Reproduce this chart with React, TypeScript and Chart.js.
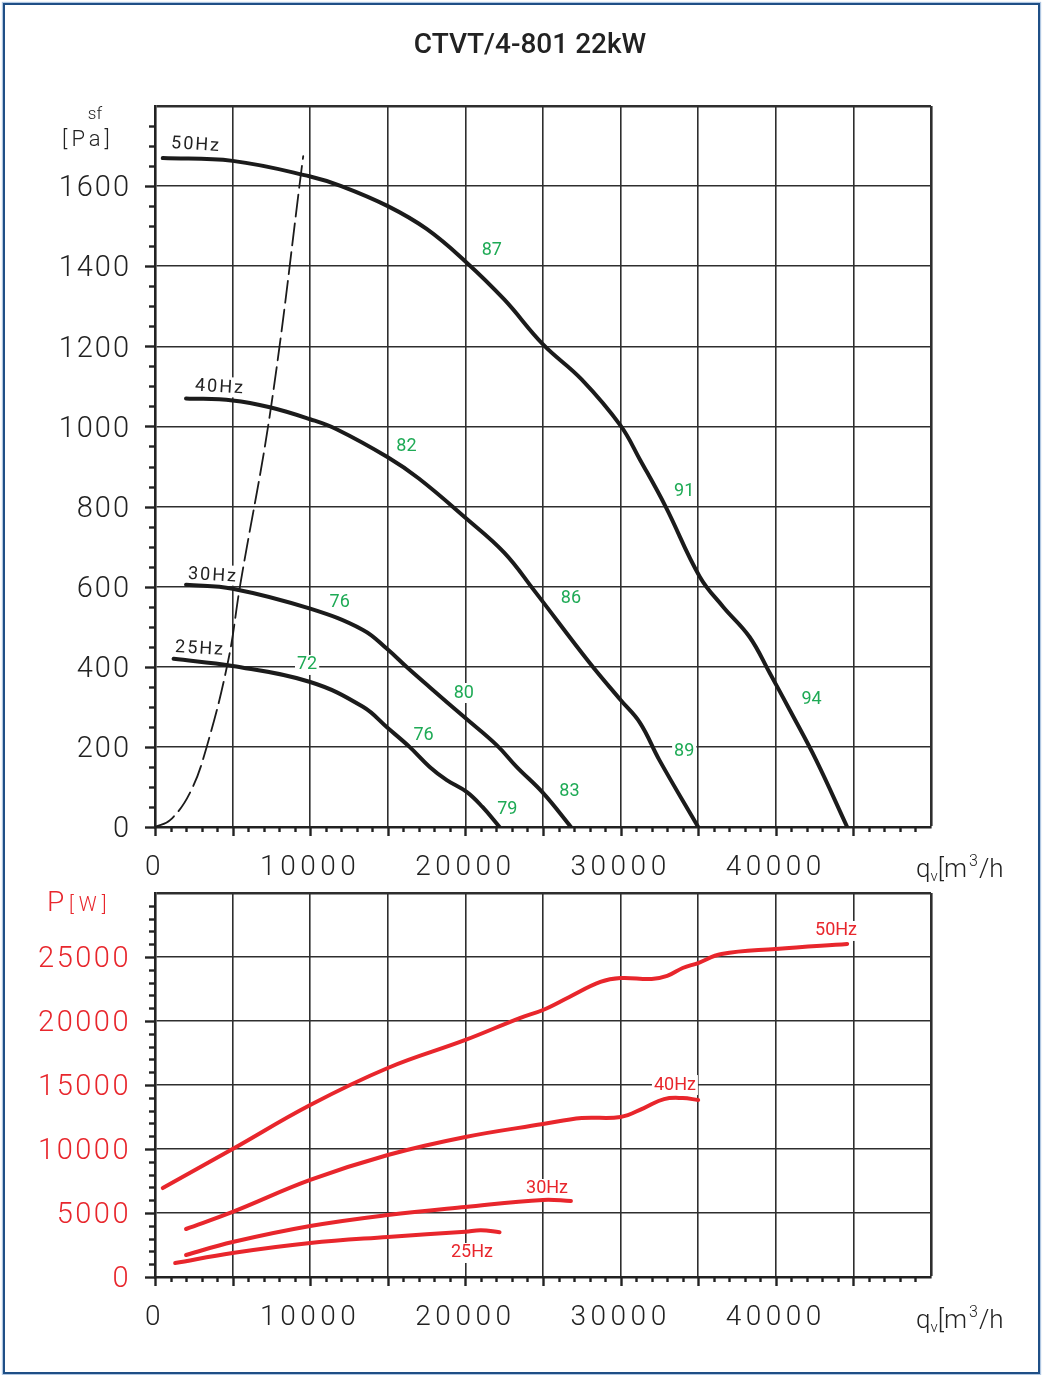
import { useEffect, useRef } from 'react';
import { Chart, registerables } from 'chart.js';

Chart.register(...registerables);

const INK = '#222222';
const GRID = '#2e2e2e';
const RED = '#e8262c';
const GREEN = '#1eaa55';
const FONT = "Roboto, 'DejaVu Sans', sans-serif";

// upper panel: static pressure [Pa] against flow qv [m3/h]
const flow50 = [500, 5000, 10000, 12000, 15000, 17500, 20000, 22500, 25000, 27500, 30000, 31250, 32900, 35100, 36600, 38300, 39600, 40900, 42600, 44600];
const press50 = [1670, 1663, 1624, 1600, 1550, 1493, 1412, 1317, 1205, 1117, 1002, 917, 800, 625, 550, 475, 385, 292, 167, 0];
const flow40 = [2000, 5000, 7400, 10000, 11700, 15000, 17000, 20000, 22500, 24400, 28000, 30000, 31250, 32500, 35000];
const press40 = [1070, 1065, 1048, 1018, 993, 923, 870, 772, 685, 592, 410, 317, 260, 167, 0];
const flow30 = [2000, 5000, 10000, 13400, 15000, 16200, 17700, 20000, 22000, 23300, 25000, 26800];
const press30 = [605, 595, 545, 492, 443, 400, 349, 272, 205, 150, 85, 0];
const flow25 = [1200, 5000, 10000, 13400, 15000, 16400, 17700, 18800, 20100, 21100, 22200];
const press25 = [420, 402, 362, 300, 247, 200, 150, 117, 87, 50, 0];
// system curve (dashed)
const sysFlow = [0, 970, 2250, 3330, 4725, 5480, 7470, 9550];
const sysPress = [0, 17, 85, 200, 417, 602, 1047, 1675];

// lower panel: power [W]
const pflow50 = [500, 5000, 10000, 15000, 20000, 23500, 25000, 26700, 28700, 30000, 32000, 33000, 34000, 35000, 36500, 40000, 44600];
const power50 = [6950, 10000, 13440, 16330, 18520, 20230, 20860, 21880, 23050, 23360, 23280, 23520, 24140, 24530, 25230, 25630, 26020];
const pflow40 = [2000, 5000, 10000, 15000, 20000, 25000, 27500, 30000, 31500, 32800, 34000, 35000];
const power40 = [3750, 5080, 7580, 9530, 10940, 11950, 12420, 12500, 13200, 13900, 13980, 13830];
const pflow30 = [2000, 5000, 10000, 15000, 20000, 25000, 26800];
const power30 = [1720, 2730, 3980, 4840, 5470, 6020, 5940];
const pflow25 = [1300, 5000, 10000, 15000, 20000, 21000, 22200];
const power25 = [1090, 1880, 2660, 3130, 3540, 3650, 3500];

// efficiency marks on the pressure panel
const effText = ['87', '91', '94', '82', '86', '89', '76', '80', '83', '72', '76', '79'];
const effFlow = [21700, 34100, 42300, 16200, 26800, 34100, 11900, 19900, 26700, 9800, 17300, 22700];
const effPress = [1447, 845, 325, 957, 577, 195, 567, 342, 97, 412, 237, 50];

// speed labels
const hzText = ['50Hz', '40Hz', '30Hz', '25Hz'];
const hzFlowTop = [2580, 4120, 3670, 2840];
const hzPressTop = [1710, 1105, 635, 452];
const hzFlowBottom = [43880, 33500, 25260, 20420];
const hzPowerBottom = [27270, 15230, 7110, 2110];

// tick labels
const flowTickLabels = ['0', '10000', '20000', '30000', '40000'];
const pressTickLabels = ['0', '200', '400', '600', '800', '1000', '1200', '1400', '1600'];
const powerTickLabels = ['0', '5000', '10000', '15000', '20000', '25000'];

const pts = (xs: number[], ys: number[]) => xs.map((x, i) => ({ x, y: ys[i] }));

const setSpacing = (ctx: CanvasRenderingContext2D, px: number) => {
  (ctx as any).letterSpacing = `${px}px`;
};

function text(
  ctx: CanvasRenderingContext2D,
  s: string,
  x: number,
  y: number,
  size: number,
  color: string,
  spacing = 0,
  weight = 300,
  align: CanvasTextAlign = 'center',
  rotate = 0
) {
  ctx.save();
  ctx.font = `${weight} ${size}px ${FONT}`;
  setSpacing(ctx, spacing);
  ctx.fillStyle = color;
  ctx.textAlign = align;
  ctx.textBaseline = 'middle';
  ctx.translate(x, y);
  ctx.rotate(rotate);
  ctx.fillText(s, align === 'center' ? spacing / 2 : 0, 0);
  ctx.restore();
}

function flowUnit(ctx: CanvasRenderingContext2D, x: number, base: number) {
  ctx.save();
  ctx.fillStyle = INK;
  ctx.textAlign = 'left';
  ctx.textBaseline = 'alphabetic';
  setSpacing(ctx, 0);
  let cx = x;
  const part = (s: string, size: number, dy: number) => {
    ctx.font = `300 ${size}px ${FONT}`;
    ctx.fillText(s, cx, base + dy);
    cx += ctx.measureText(s).width;
  };
  part('q', 26, 0);
  part('v', 15, 4);
  part('[m', 26, 0);
  cx += 2;
  part('3', 16, -11);
  cx += 1;
  part('/h', 26, 0);
  ctx.restore();
}

type Tag = { text: string; q: number; v: number; color: string; size: number; spacing: number; rotate: number };

const TAG_DY = 3;

function panelPlugin(cfg: {
  tags: Tag[];
  yMinor: number;
  yMajor: number;
  xSpacing: number;
  ySpacing: number;
  decorate: (ctx: CanvasRenderingContext2D) => void;
}) {
  return {
    id: 'panel',
    beforeDraw(chart: any) {
      setSpacing(chart.ctx, cfg.xSpacing);
    },
    beforeDatasetsDraw(chart: any) {
      const { ctx, scales } = chart;
      ctx.save();
      ctx.fillStyle = '#ffffff';
      for (const t of cfg.tags) {
        ctx.font = `400 ${t.size}px ${FONT}`;
        setSpacing(ctx, t.spacing);
        const w = ctx.measureText(t.text).width + 4;
        const px = scales.x.getPixelForValue(t.q);
        const py = scales.y.getPixelForValue(t.v) + TAG_DY;
        ctx.fillRect(px - w / 2, py - 10, w, 20);
      }
      ctx.restore();
      setSpacing(ctx, cfg.ySpacing);
    },
    afterDatasetsDraw(chart: any) {
      const { ctx, scales } = chart;
      for (const t of cfg.tags) {
        const px = scales.x.getPixelForValue(t.q);
        const py = scales.y.getPixelForValue(t.v) + TAG_DY;
        text(ctx, t.text, px, py, t.size, t.color, t.spacing, 400, 'center', t.rotate);
      }
    },
    afterDraw(chart: any) {
      const { ctx, scales } = chart;
      const { x, y } = scales;
      ctx.save();
      ctx.strokeStyle = INK;
      ctx.lineWidth = 2.4;
      for (let v = 0; v < x.max; v += 1000) {
        const px = Math.round(x.getPixelForValue(v)) + 0.5;
        const len = v % 5000 === 0 ? 9 : 5;
        ctx.beginPath();
        ctx.moveTo(px, y.bottom);
        ctx.lineTo(px, y.bottom + len);
        ctx.stroke();
      }
      for (let v = 0; v < y.max; v += cfg.yMinor) {
        const py = Math.round(y.getPixelForValue(v)) + 0.5;
        const len = v % cfg.yMajor === 0 ? 10 : 6;
        ctx.beginPath();
        ctx.moveTo(x.left, py);
        ctx.lineTo(x.left - len, py);
        ctx.stroke();
      }
      ctx.restore();
      cfg.decorate(ctx);
      setSpacing(ctx, 0);
    },
  };
}

function panelOptions(yMax: number, yStep: number, yLabels: string[], yColor: string, padTop: number, xHeight: number) {
  return {
    animation: false as const,
    responsive: false,
    maintainAspectRatio: false,
    layout: { padding: { top: padTop, right: 114, left: 0, bottom: 0 } },
    plugins: { legend: { display: false }, tooltip: { enabled: false } },
    elements: {
      point: { radius: 0 },
      line: { tension: 0.4, borderCapStyle: 'round' as const, borderJoinStyle: 'round' as const },
    },
    scales: {
      x: {
        type: 'linear' as const,
        min: 0,
        max: 50000,
        afterFit: (s: any) => {
          s.height = xHeight;
        },
        ticks: {
          stepSize: 5000,
          autoSkip: false,
          maxRotation: 0,
          minRotation: 0,
          padding: 24,
          color: INK,
          font: { family: FONT, size: 28, weight: 300 as any },
          callback: (v: any) => (v % 10000 === 0 ? flowTickLabels[v / 10000] ?? '' : ''),
        },
        grid: { color: GRID, lineWidth: (c: any) => (c.tick && c.tick.value === 50000 ? 2.6 : 1.6), drawTicks: false },
        border: { color: INK, width: 2.6 },
      },
      y: {
        type: 'linear' as const,
        min: 0,
        max: yMax,
        afterFit: (s: any) => {
          s.width = 155;
        },
        ticks: {
          stepSize: yStep,
          autoSkip: false,
          padding: 24,
          labelOffset: 3,
          color: yColor,
          z: 1,
          font: { family: FONT, size: 29, weight: 300 as any },
          callback: (v: any) => yLabels[Math.round(v / yStep)] ?? '',
        },
        grid: { color: GRID, lineWidth: (c: any) => (c.tick && c.tick.value === yMax ? 2.6 : 1.6), drawTicks: false },
        border: { color: INK, width: 2.6 },
      },
    },
  };
}

const blackLine = (label: string, xs: number[], ys: number[]) => ({
  label,
  data: pts(xs, ys),
  showLine: true,
  borderColor: '#1b1b1b',
  borderWidth: 4,
});

const redLine = (label: string, xs: number[], ys: number[]) => ({
  label,
  data: pts(xs, ys),
  showLine: true,
  borderColor: RED,
  borderWidth: 4,
});

const BOTTOM_TOP = 835;

export default function App() {
  const topRef = useRef<HTMLCanvasElement>(null);
  const bottomRef = useRef<HTMLCanvasElement>(null);

  useEffect(() => {
    if (!topRef.current || !bottomRef.current) return;

    const topTags: Tag[] = [
      ...hzText.map((t, i) => ({ text: t, q: hzFlowTop[i], v: hzPressTop[i], color: INK, size: 18, spacing: 2, rotate: 0.06 })),
      ...effText.map((t, i) => ({ text: t, q: effFlow[i], v: effPress[i], color: GREEN, size: 18, spacing: 0, rotate: 0 })),
    ];
    const bottomTags: Tag[] = hzText.map((t, i) => ({
      text: t,
      q: hzFlowBottom[i],
      v: hzPowerBottom[i],
      color: RED,
      size: 18,
      spacing: 0,
      rotate: 0,
    }));

    const top = new Chart(topRef.current, {
      type: 'scatter',
      data: {
        datasets: [
          blackLine('50Hz', flow50, press50),
          blackLine('40Hz', flow40, press40),
          blackLine('30Hz', flow30, press30),
          blackLine('25Hz', flow25, press25),
          { ...blackLine('system', sysFlow, sysPress), borderWidth: 1.8, borderDash: [22, 7] },
        ],
      },
      options: panelOptions(1800, 200, pressTickLabels, INK, 106, 58) as any,
      plugins: [
        panelPlugin({
          tags: topTags,
          yMinor: 50,
          yMajor: 200,
          xSpacing: 4.5,
          ySpacing: 2,
          decorate: (ctx) => {
            text(ctx, 'CTVT/4-801 22kW', 530, 46, 28, INK, 0, 500);
            text(ctx, 'sf', 95, 115, 17, INK, 0, 300);
            text(ctx, '[Pa]', 86, 140, 22, INK, 4, 300);
            flowUnit(ctx, 916, 877);
          },
        }) as any,
      ],
    });

    const bottom = new Chart(bottomRef.current, {
      type: 'scatter',
      data: {
        datasets: [
          redLine('50Hz', pflow50, power50),
          redLine('40Hz', pflow40, power40),
          redLine('30Hz', pflow30, power30),
          redLine('25Hz', pflow25, power25),
        ],
      },
      options: panelOptions(30000, 5000, powerTickLabels, RED, 893 - BOTTOM_TOP, 98) as any,
      plugins: [
        panelPlugin({
          tags: bottomTags,
          yMinor: 1000,
          yMajor: 5000,
          xSpacing: 4.5,
          ySpacing: 2.5,
          decorate: (ctx) => {
            text(ctx, 'P', 47, 904 - BOTTOM_TOP, 28, RED, 0, 300, 'left');
            text(ctx, '[W]', 69, 906 - BOTTOM_TOP, 20, RED, 5, 300, 'left');
            flowUnit(ctx, 916, 1328 - BOTTOM_TOP);
          },
        }) as any,
      ],
    });

    return () => {
      top.destroy();
      bottom.destroy();
    };
  }, []);

  return (
    <div style={{ position: 'absolute', left: 0, top: 0, width: 1045, height: 1375, background: '#ffffff', overflow: 'hidden' }}>
      <div
        style={{
          position: 'absolute',
          left: 3,
          top: 3,
          width: 1037,
          height: 1371,
          boxSizing: 'border-box',
          border: '2px solid #1f4f86',
          boxShadow: '0 0 1px 1px rgba(80,130,190,0.45)',
        }}
      />
      <canvas ref={topRef} width={1045} height={885} style={{ position: 'absolute', left: 0, top: 0, width: 1045, height: 885 }} />
      <canvas
        ref={bottomRef}
        width={1045}
        height={1375 - BOTTOM_TOP}
        style={{ position: 'absolute', left: 0, top: BOTTOM_TOP, width: 1045, height: 1375 - BOTTOM_TOP }}
      />
    </div>
  );
}
